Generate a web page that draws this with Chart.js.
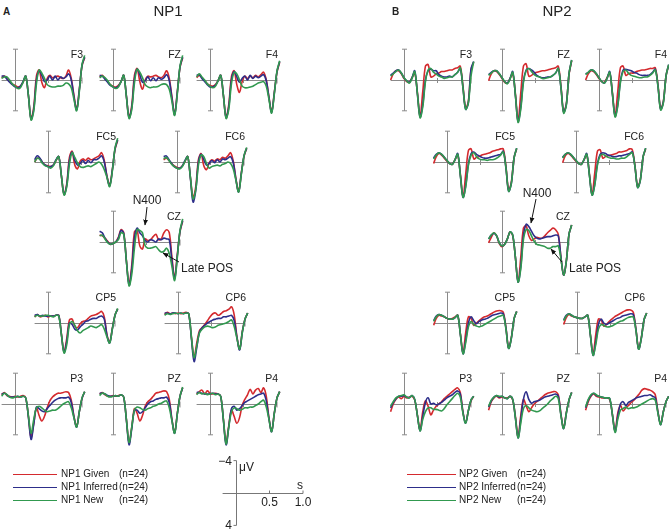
<!DOCTYPE html>
<html>
<head>
<meta charset="utf-8">
<script src="https://cdn.jsdelivr.net/npm/chart.js@4.4.1/dist/chart.umd.min.js"></script>
<style>
  html, body { margin: 0; padding: 0; background: #fff; }
  #fig { position: relative; width: 669px; height: 530px; overflow: hidden;
         font-family: "Liberation Sans", Arial, Helvetica, sans-serif; color: #222; }
  #fig canvas { position: absolute; }
  .t { position: absolute; white-space: nowrap; line-height: 1; }
  #notes { position: absolute; left: 0; top: 0; }
</style>
</head>
<body>
<div id="fig"></div>
<script>
// time base in seconds (sample every 40 ms)
const TIMES = [-0.2,-0.16,-0.12,-0.08,-0.04,0,0.04,0.08,0.12,0.16,0.2,0.24,0.28,0.32,0.36,0.4,
  0.44,0.48,0.52,0.56,0.6,0.64,0.68,0.72,0.76,0.8,0.84,0.88,0.92,0.96,1.0,1.04];

const ELECTRODES = ["F3","FZ","F4","FC5","FC6","CZ","CP5","CP6","P3","PZ","P4"];
const CONDITIONS = ["Given","Inferred","New"];
const PANELS = ["NP1","NP2"];

// ---- NP1 (microvolts, negative up) ----
const NP1_F3_GIVEN    = [-0.3,-0.5,-0.2,0.2,0.5,0.7,0.9,0.8,0.3,-0.5,2.0,5.0,3.5,-0.5,-1.3,0.3,1.0,-0.2,-0.6,-0.3,-0.4,-0.5,-0.3,-0.2,-0.5,-1.3,-0.2,2.0,3.8,1.2,-1.8,-2.9];
const NP1_F3_INFERRED = [-0.5,-0.5,-0.1,0.3,0.6,0.9,1.0,0.8,0.2,-0.5,2.0,5.1,3.8,0.0,-1.2,-0.6,0.2,0.0,-0.5,0.0,-0.5,0.0,-0.4,-0.2,-0.4,-0.8,0.0,2.2,3.9,1.3,-1.9,-3.0];
const NP1_F3_NEW      = [-0.2,-0.4,-0.4,0.0,0.5,0.8,1.1,1.0,0.3,-0.5,2.0,5.2,4.0,0.5,-1.3,-0.9,-0.2,0.6,0.8,0.9,0.9,0.8,0.8,0.7,0.4,0.5,1.0,2.5,4.0,1.5,-2.0,-3.2];

const NP1_FZ_GIVEN    = [-0.4,-0.6,-0.2,0.2,0.6,0.8,0.9,0.7,0.2,-0.6,2.1,4.8,3.3,-0.6,-1.5,0.2,1.2,0.0,-0.5,-0.4,-0.5,-0.6,-0.4,-0.3,-0.6,-1.2,-0.2,2.2,4.4,1.5,-1.6,-2.9];
const NP1_FZ_INFERRED = [-0.6,-0.5,-0.1,0.3,0.7,0.9,1.0,0.8,0.2,-0.6,2.1,4.9,3.6,-0.1,-1.4,-0.7,0.3,0.1,-0.4,0.1,-0.3,0.1,-0.3,-0.1,-0.3,-0.7,0.1,2.4,4.5,1.6,-1.7,-3.0];
const NP1_FZ_NEW      = [-0.3,-0.5,-0.3,0.1,0.6,0.9,1.1,0.9,0.2,-0.6,2.2,5.0,3.8,0.4,-1.4,-1.0,-0.3,0.6,0.9,1.0,0.9,0.9,0.8,0.6,0.5,0.6,1.2,2.8,4.6,1.8,-1.8,-3.2];

const NP1_F4_GIVEN    = [-0.3,-0.6,-0.3,0.1,0.5,0.7,0.8,0.6,0.1,-0.6,2.0,4.8,3.2,-0.4,-1.2,0.6,1.6,0.2,-0.5,-0.2,-0.5,-0.3,-0.6,-0.4,-0.7,-1.0,0.0,2.2,4.1,1.6,-1.0,-2.3];
const NP1_F4_INFERRED = [-0.6,-0.7,-0.2,0.2,0.6,0.9,0.9,0.7,0.1,-0.6,2.0,4.9,3.5,0.0,-1.1,-0.4,0.3,-0.2,-0.5,0.0,-0.6,-0.2,-0.5,-0.3,-0.5,-0.7,0.1,2.3,4.2,1.7,-1.1,-2.4];
const NP1_F4_NEW      = [-0.4,-0.8,-0.4,0.0,0.5,0.8,1.0,0.8,0.1,-0.6,2.0,5.0,3.8,0.5,-1.0,-0.8,0.0,0.8,1.0,1.0,0.9,0.8,0.6,0.4,0.3,0.2,0.8,2.5,4.3,1.8,-1.2,-2.5];

const NP1_FC5_GIVEN    = [0.0,-0.5,-0.4,0.1,0.4,0.5,0.6,0.4,-0.2,-0.7,1.8,4.2,2.8,-0.6,-1.4,0.4,0.9,-0.1,-0.4,-0.2,-0.5,-0.3,-0.4,-0.6,-0.8,-1.2,-0.2,1.8,3.0,1.0,-1.6,-2.8];
const NP1_FC5_INFERRED = [-0.3,-0.8,-0.5,0.1,0.4,0.6,0.6,0.4,-0.3,-0.7,1.8,4.2,3.0,-0.2,-1.3,-0.2,0.4,0.2,-0.2,0.2,-0.2,0.1,-0.3,-0.3,-0.5,-0.8,0.0,1.9,3.1,1.1,-1.7,-2.9];
const NP1_FC5_NEW      = [0.0,-0.5,-0.3,0.2,0.5,0.6,0.8,0.5,-0.2,-0.7,1.8,4.3,3.2,0.3,-1.2,-0.6,0.1,0.6,0.7,0.6,0.5,0.6,0.4,0.2,0.0,0.3,1.0,2.0,3.2,1.2,-1.8,-3.1];

const NP1_FC6_GIVEN    = [-0.3,-0.5,-0.2,0.2,0.5,0.7,0.8,0.5,-0.1,-0.7,2.0,4.6,3.2,-0.3,-1.1,0.5,1.0,0.1,-0.3,-0.1,-0.4,-0.3,-0.6,-0.5,-0.8,-1.2,-0.1,2.2,3.8,1.4,-0.7,-1.8];
const NP1_FC6_INFERRED = [-0.7,-0.8,-0.3,0.2,0.6,0.8,0.8,0.5,-0.2,-0.7,2.1,5.2,3.7,0.0,-1.0,-0.3,0.4,0.2,-0.2,0.1,-0.3,0.0,-0.4,-0.3,-0.5,-0.7,0.1,2.3,3.9,1.5,-0.8,-1.8];
const NP1_FC6_NEW      = [-0.4,-0.6,-0.2,0.3,0.6,0.8,0.9,0.6,-0.1,-0.7,2.0,4.8,3.6,0.4,-0.9,-0.7,0.2,0.8,0.6,0.5,0.4,0.5,0.3,0.2,0.0,0.2,0.9,2.4,3.9,1.6,-0.8,-1.9];

const NP1_CZ_GIVEN    = [-0.9,-0.8,-0.5,-0.1,0.3,0.2,0.0,-0.6,-1.6,-1.2,2.4,5.4,3.0,-1.3,-1.5,0.5,0.9,-0.4,-0.2,-0.3,-0.7,-1.0,-0.3,-0.4,-1.2,-1.6,-1.2,2.0,4.6,1.6,-1.3,-2.7];
const NP1_CZ_INFERRED = [-1.4,-1.2,-0.5,0.0,0.3,0.2,0.0,-0.5,-1.5,-1.1,2.5,5.6,3.5,-0.5,-1.8,-1.2,-0.8,-0.2,0.0,-0.3,-0.2,0.0,-0.4,-0.3,-0.5,-0.4,-0.3,2.5,4.8,1.8,-1.4,-2.8];
const NP1_CZ_NEW      = [-0.8,-0.9,-0.4,0.1,0.3,0.2,0.0,-0.3,-1.2,-1.0,2.5,5.7,4.2,0.8,-1.6,-1.5,-1.2,0.5,0.8,0.8,0.7,0.6,1.0,1.3,1.2,0.8,1.5,3.2,5.0,2.0,-1.5,-3.0];

const NP1_CP5_GIVEN    = [-0.8,-1.1,-0.8,-0.9,-1.0,-0.8,-0.9,-0.9,-1.0,-1.0,1.4,3.7,2.0,-0.4,-0.5,0.4,0.6,0.1,-0.2,-0.3,-0.6,-0.9,-1.0,-1.1,-1.3,-1.5,-0.8,1.5,2.5,0.7,-1.0,-1.8];
const NP1_CP5_INFERRED = [-1.0,-1.1,-0.9,-1.0,-0.9,-0.9,-0.9,-0.9,-1.0,-1.0,1.5,3.8,2.4,0.0,0.2,0.8,0.9,0.5,0.2,-0.2,-0.3,-0.5,-0.6,-0.6,-0.8,-0.9,-0.5,1.6,2.6,0.8,-1.0,-1.8];
const NP1_CP5_NEW      = [-0.8,-1.0,-0.9,-0.9,-1.0,-1.0,-0.9,-0.8,-1.0,-0.9,1.5,3.9,2.8,0.2,-0.2,0.3,1.0,1.3,1.0,0.8,0.6,0.4,0.5,0.6,0.4,0.2,0.8,1.8,2.6,0.8,-1.0,-1.9];

const NP1_CP6_GIVEN    = [-1.1,-1.4,-1.2,-1.3,-1.2,-1.3,-1.2,-1.3,-1.4,-1.2,1.8,4.4,2.6,1.0,0.6,0.2,-0.3,-0.8,-1.2,-1.3,-1.0,-1.2,-1.5,-1.6,-1.8,-2.1,-1.0,1.8,3.4,1.1,-0.5,-1.3];
const NP1_CP6_INFERRED = [-1.3,-1.3,-1.2,-1.3,-1.3,-1.2,-1.3,-1.2,-1.3,-1.2,2.0,5.0,3.2,1.2,0.6,0.3,0.0,-0.2,-0.4,-0.5,-0.6,-0.6,-0.8,-0.8,-0.9,-1.0,-0.3,1.9,3.5,1.2,-0.5,-1.3];
const NP1_CP6_NEW      = [-1.0,-1.2,-1.1,-1.2,-1.3,-1.2,-1.3,-1.2,-1.3,-1.2,1.8,4.5,3.0,1.3,0.8,0.5,0.4,0.5,0.6,0.5,0.3,0.2,0.1,0.0,-0.2,-0.4,0.5,2.0,3.4,1.2,-0.5,-1.3];

const NP1_P3_GIVEN    = [-1.2,-1.5,-1.1,-1.0,-0.9,-1.0,-0.9,-1.0,-1.1,-0.8,1.6,4.3,2.5,0.5,1.5,2.2,1.6,0.5,-0.4,-0.9,-1.2,-1.4,-1.4,-1.5,-1.6,-1.5,-0.5,1.6,2.9,1.0,-0.7,-1.6];
const NP1_P3_INFERRED = [-1.3,-1.4,-1.2,-0.9,-0.9,-0.9,-1.0,-0.9,-1.0,-0.8,1.7,4.6,2.6,0.4,0.6,0.9,1.0,0.6,0.2,-0.2,-0.5,-0.7,-0.8,-0.8,-0.8,-0.9,-0.2,1.7,3.0,1.0,-0.7,-1.6];
const NP1_P3_NEW      = [-1.0,-1.4,-1.2,-0.9,-0.8,-0.9,-1.0,-0.9,-1.0,-0.8,1.5,3.8,2.0,0.5,0.3,0.5,0.8,1.0,0.9,0.8,0.8,0.6,0.3,0.0,-0.2,-0.3,0.5,1.8,3.0,1.0,-0.8,-1.6];

const NP1_PZ_GIVEN    = [-1.3,-1.5,-1.2,-1.0,-1.0,-1.1,-1.0,-1.1,-1.2,-0.9,2.0,5.0,3.0,0.6,1.2,2.2,1.5,0.3,-0.3,-0.6,-1.0,-1.4,-1.5,-1.6,-1.7,-1.6,-0.6,2.0,3.7,1.2,-1.0,-2.1];
const NP1_PZ_INFERRED = [-1.4,-1.4,-1.3,-1.1,-1.0,-1.0,-1.1,-1.0,-1.2,-0.9,2.1,5.3,3.2,0.8,0.8,1.2,1.0,0.5,0.0,-0.3,-0.4,-0.6,-0.7,-0.8,-0.8,-0.9,-0.2,2.1,3.8,1.3,-1.0,-2.1];
const NP1_PZ_NEW      = [-1.1,-1.4,-1.3,-1.0,-0.9,-1.0,-1.1,-1.0,-1.2,-0.9,2.0,5.0,3.0,0.8,0.4,0.5,0.7,0.8,0.6,0.5,0.3,0.2,0.0,-0.1,-0.3,-0.4,0.5,2.2,3.8,1.3,-1.0,-2.2];

const NP1_P4_GIVEN    = [-1.3,-1.6,-1.8,-1.3,-1.7,-1.4,-1.3,-1.4,-1.3,-1.0,2.0,5.0,2.8,0.8,1.6,2.5,1.8,0.2,-0.6,-1.2,-1.9,-1.3,-1.8,-2.0,-1.5,-2.1,-1.0,1.8,3.5,1.2,-0.8,-1.6];
const NP1_P4_INFERRED = [-1.5,-1.5,-1.4,-1.3,-1.3,-1.3,-1.4,-1.3,-1.3,-1.0,2.1,5.3,3.0,0.6,0.3,0.8,0.6,0.2,-0.2,-0.4,-0.6,-0.8,-1.0,-1.2,-1.3,-1.4,-0.4,1.9,3.6,1.2,-0.8,-1.6];
const NP1_P4_NEW      = [-1.2,-1.5,-1.3,-1.4,-1.2,-1.3,-1.4,-1.2,-1.3,-1.0,2.0,5.2,3.0,1.0,0.5,0.6,0.8,0.7,0.5,0.5,0.4,0.4,0.2,0.0,-0.3,-0.5,0.4,2.0,3.6,1.2,-0.8,-1.6];

// ---- NP2 ----
const NP2_F3_GIVEN    = [0.0,-0.8,-1.2,-1.2,-0.8,-0.2,0.2,0.3,-0.3,-0.9,1.6,4.6,1.5,-1.8,-2.0,-0.4,-0.5,-0.8,-0.9,-1.1,-1.1,-1.2,-1.3,-1.3,-1.5,-1.6,-1.8,0.8,3.6,2.8,-1.3,-2.3];
const NP2_F3_INFERRED = [-0.6,-0.9,-1.2,-1.3,-0.9,-0.3,0.1,0.3,-0.3,-1.2,1.8,4.8,3.2,0.0,-1.2,-1.4,-1.2,-1.2,-0.7,-0.5,-0.4,-0.4,-0.5,-0.4,-0.7,-1.0,-1.5,1.0,3.8,3.0,-1.4,-2.4];
const NP2_F3_NEW      = [-0.5,-0.8,-1.1,-1.3,-0.9,-0.3,0.1,0.4,-0.2,-1.1,1.8,4.9,3.5,0.2,-1.3,-1.5,-1.0,-0.8,-0.5,-0.4,-0.2,-0.3,-0.4,-0.4,-0.7,-1.0,-1.6,1.0,3.8,3.0,-0.5,-2.4];

const NP2_FZ_GIVEN    = [0.1,-0.8,-1.2,-1.1,-0.7,-0.2,0.3,0.4,-0.2,-0.8,1.8,5.2,1.7,-1.8,-2.1,-0.5,-0.6,-0.9,-1.0,-1.1,-1.2,-1.2,-1.3,-1.4,-1.5,-1.6,-1.8,0.8,4.1,3.1,-0.7,-2.5];
const NP2_FZ_INFERRED = [-0.7,-1.0,-1.2,-1.2,-0.8,-0.3,0.2,0.4,-0.2,-1.1,2.0,5.4,3.5,0.1,-1.3,-1.5,-1.3,-1.0,-0.6,-0.4,-0.3,-0.3,-0.4,-0.4,-0.6,-0.9,-1.5,1.0,4.2,3.2,-0.8,-2.6];
const NP2_FZ_NEW      = [-0.6,-0.9,-1.2,-1.2,-0.8,-0.3,0.2,0.5,-0.1,-1.0,2.0,5.5,3.8,0.3,-1.2,-1.5,-1.1,-0.7,-0.5,-0.4,-0.2,-0.2,-0.3,-0.4,-0.6,-0.9,-1.5,1.0,4.3,3.3,-0.8,-2.6];

const NP2_F4_GIVEN    = [0.0,-0.8,-1.2,-1.1,-0.7,-0.2,0.2,0.3,-0.3,-0.9,1.6,4.5,1.5,-1.6,-1.8,-0.6,-0.8,-0.9,-0.9,-1.1,-1.2,-1.3,-1.3,-1.4,-1.5,-1.5,-1.6,0.6,3.7,2.8,-0.5,-1.9];
const NP2_F4_INFERRED = [-0.8,-1.0,-1.3,-1.2,-0.8,-0.3,0.2,0.4,-0.2,-1.1,1.8,4.7,3.2,0.1,-1.3,-1.4,-1.3,-1.2,-1.0,-0.9,-0.7,-0.6,-0.6,-0.6,-0.7,-1.0,-1.4,0.8,3.8,2.9,-0.5,-2.0];
const NP2_F4_NEW      = [-0.7,-1.0,-1.3,-1.2,-0.8,-0.3,0.2,0.4,-0.2,-1.0,1.8,4.8,3.4,0.3,-1.1,-1.3,-0.9,-0.6,-0.5,-0.4,-0.3,-0.3,-0.4,-0.4,-0.6,-0.9,-1.3,0.8,3.9,3.0,-0.5,-2.0];

const NP2_FC5_GIVEN    = [0.2,-0.7,-1.1,-0.9,-0.5,-0.1,0.2,0.3,-0.3,-0.9,1.6,4.4,1.5,-1.5,-1.7,-0.4,-0.6,-0.7,-0.9,-1.0,-1.1,-1.2,-1.4,-1.5,-1.6,-1.7,-1.7,0.6,3.6,2.6,-0.5,-1.7];
const NP2_FC5_INFERRED = [-0.5,-1.0,-1.2,-1.0,-0.6,-0.2,0.2,0.3,-0.3,-1.1,1.8,4.6,3.0,0.2,-1.1,-1.3,-1.0,-0.8,-0.6,-0.5,-0.5,-0.6,-0.7,-0.8,-0.9,-1.0,-1.4,0.8,3.8,2.8,-0.5,-1.8];
const NP2_FC5_NEW      = [-0.4,-0.9,-1.2,-1.0,-0.6,-0.2,0.2,0.3,-0.3,-1.0,1.8,4.6,3.2,0.4,-0.9,-1.2,-0.7,-0.4,-0.3,-0.3,-0.2,-0.3,-0.3,-0.4,-0.6,-0.9,-1.3,0.8,3.8,2.8,-0.5,-1.8];

const NP2_FC6_GIVEN    = [0.1,-0.8,-1.1,-0.9,-0.5,-0.1,0.2,0.3,-0.3,-0.9,1.5,4.1,1.4,-1.4,-1.6,-0.5,-0.7,-0.8,-0.9,-1.0,-1.1,-1.3,-1.3,-1.4,-1.5,-1.7,-1.6,0.5,3.2,2.3,-0.6,-1.7];
const NP2_FC6_INFERRED = [-0.6,-1.0,-1.2,-1.0,-0.6,-0.2,0.2,0.3,-0.3,-1.1,1.7,4.3,2.9,0.2,-1.0,-1.2,-1.1,-0.9,-0.8,-0.7,-0.7,-0.8,-0.8,-0.9,-1.0,-1.1,-1.3,0.6,3.3,2.4,-0.6,-1.8];
const NP2_FC6_NEW      = [-0.5,-1.0,-1.2,-1.0,-0.6,-0.2,0.2,0.3,-0.3,-1.0,1.7,4.3,3.0,0.4,-0.8,-1.0,-0.8,-0.6,-0.5,-0.5,-0.4,-0.4,-0.5,-0.5,-0.7,-1.0,-1.2,0.6,3.3,2.4,-0.6,-1.8];

const NP2_CZ_GIVEN    = [0.1,-0.6,-1.2,-0.8,0.2,0.6,0.3,-0.4,-1.3,-0.8,2.0,5.2,2.0,-1.8,-2.1,-0.8,-0.2,-0.4,-0.6,-0.5,-0.5,-0.8,-1.2,-1.5,-1.8,-1.6,-1.0,2.0,4.3,2.5,-1.0,-2.2];
const NP2_CZ_INFERRED = [-0.4,-0.9,-1.1,-0.8,0.1,0.5,0.3,-0.4,-1.3,-0.9,2.0,5.2,3.2,-0.8,-2.3,-2.0,-1.4,-0.8,-0.5,-0.4,-0.5,-0.6,-0.7,-0.7,-0.8,-0.9,-0.8,2.0,4.3,2.5,-1.0,-2.2];
const NP2_CZ_NEW      = [-0.4,-0.9,-1.2,-0.8,0.1,0.5,0.3,-0.4,-1.3,-0.9,2.0,5.2,3.5,-0.3,-1.6,-1.5,-0.8,-0.1,0.3,0.4,0.5,0.6,0.8,0.8,0.6,0.6,0.5,2.2,4.3,2.5,-1.0,-2.2];

const NP2_CP5_GIVEN    = [0.3,-0.6,-1.0,-0.9,-0.8,-0.6,-0.5,-0.6,-0.8,-1.0,1.4,3.8,1.2,-0.8,-0.6,0.3,0.0,-0.3,-0.6,-0.8,-0.9,-1.1,-1.3,-1.5,-1.6,-1.6,-1.4,0.6,3.2,1.9,-0.5,-1.5];
const NP2_CP5_INFERRED = [-0.3,-0.9,-1.1,-1.0,-0.8,-0.6,-0.5,-0.5,-0.7,-1.0,1.5,4.0,2.2,0.0,-0.8,-0.3,0.1,-0.2,-0.4,-0.5,-0.6,-0.8,-1.0,-1.1,-1.2,-1.3,-1.2,0.7,3.3,2.0,-0.5,-1.5];
const NP2_CP5_NEW      = [-0.2,-0.8,-1.1,-1.0,-0.8,-0.6,-0.5,-0.5,-0.7,-1.0,1.5,4.0,2.5,0.5,-0.2,0.2,0.4,0.5,0.4,0.2,0.0,-0.2,-0.4,-0.6,-0.8,-0.9,-1.0,0.8,3.3,2.0,-0.5,-1.5];

const NP2_CP6_GIVEN    = [0.2,-0.7,-1.1,-0.9,-0.8,-0.7,-0.6,-0.6,-0.8,-1.0,1.5,4.0,1.5,-0.5,-0.4,0.4,0.2,-0.2,-0.5,-0.8,-1.0,-1.2,-1.4,-1.6,-1.7,-1.7,-1.4,0.8,3.3,1.9,-0.4,-1.3];
const NP2_CP6_INFERRED = [-0.4,-1.0,-1.2,-1.0,-0.8,-0.7,-0.6,-0.6,-0.8,-1.0,1.6,4.2,2.5,0.2,-0.5,0.0,0.2,0.0,-0.2,-0.4,-0.6,-0.7,-0.9,-1.0,-1.1,-1.2,-1.1,0.9,3.4,2.0,-0.4,-1.3];
const NP2_CP6_NEW      = [-0.3,-0.9,-1.2,-1.0,-0.8,-0.7,-0.6,-0.6,-0.8,-1.0,1.6,4.2,2.8,0.8,0.2,0.3,0.5,0.5,0.4,0.2,0.0,-0.2,-0.3,-0.5,-0.7,-0.8,-0.8,1.0,3.4,2.0,-0.4,-1.3];

const NP2_P3_GIVEN    = [1.0,0.0,-0.6,-0.9,-0.7,-1.0,-0.8,-0.9,-1.0,-0.5,1.4,3.3,1.0,-0.4,0.3,1.4,0.8,0.3,0.0,-0.3,-0.7,-1.0,-1.3,-1.6,-1.9,-2.1,-1.5,1.0,2.4,0.9,-0.4,-1.0];
const NP2_P3_INFERRED = [0.5,-0.2,-0.7,-1.0,-1.0,-1.1,-0.9,-0.8,-1.1,-0.6,1.5,3.5,1.6,-0.2,-0.8,0.0,-0.1,0.1,0.0,-0.2,-0.5,-0.8,-1.0,-1.2,-1.5,-1.7,-1.3,1.1,2.5,0.9,-0.5,-1.0];
const NP2_P3_NEW      = [0.3,-0.3,-0.8,-1.0,-1.1,-1.2,-0.9,-0.8,-1.1,-0.6,1.5,3.5,2.0,1.0,0.5,0.5,0.7,0.7,0.8,0.9,0.6,0.1,-0.3,-0.7,-1.1,-1.4,-0.9,1.2,2.5,0.9,-0.5,-1.0];

const NP2_PZ_GIVEN    = [0.8,-0.3,-0.8,-1.0,-0.8,-0.9,-0.8,-0.8,-1.0,-0.5,1.6,4.2,1.5,-0.6,0.2,1.0,0.5,0.0,-0.3,-0.6,-0.9,-1.2,-1.4,-1.5,-1.6,-1.6,-1.2,1.3,3.1,1.1,-0.5,-1.5];
const NP2_PZ_INFERRED = [0.4,-0.4,-0.9,-1.1,-0.9,-1.0,-0.8,-0.7,-1.0,-0.6,1.8,4.4,2.0,-0.6,-1.6,-0.6,-0.1,-0.3,-0.4,-0.5,-0.7,-0.9,-1.0,-1.1,-1.2,-1.3,-1.0,1.4,3.2,1.2,-0.5,-1.5];
const NP2_PZ_NEW      = [0.3,-0.5,-0.9,-1.1,-1.0,-1.0,-0.8,-0.7,-1.0,-0.6,1.8,4.4,2.5,0.6,0.2,0.5,0.8,0.9,1.0,0.9,0.6,0.3,0.0,-0.4,-0.7,-1.0,-0.7,1.5,3.2,1.2,-0.5,-1.5];

const NP2_P4_GIVEN    = [0.8,-0.3,-1.0,-1.3,-1.0,-0.9,-0.8,-0.8,-0.8,-0.6,1.3,3.5,1.2,0.2,0.9,0.5,0.2,-0.2,-0.5,-0.9,-1.3,-1.8,-2.0,-1.9,-1.8,-1.6,-1.2,1.0,2.6,1.0,-0.3,-1.0];
const NP2_P4_INFERRED = [0.5,-0.5,-1.1,-1.4,-1.1,-1.0,-0.9,-0.8,-0.8,-0.7,1.4,3.6,1.6,0.0,-0.3,0.2,-0.2,-0.4,-0.6,-0.8,-0.9,-1.0,-1.1,-1.1,-1.2,-1.0,-0.8,1.1,2.7,1.0,-0.3,-1.0];
const NP2_P4_NEW      = [0.4,-0.6,-1.2,-1.4,-1.2,-1.0,-0.9,-0.8,-0.8,-0.7,1.4,3.7,2.0,0.8,0.6,0.4,0.6,0.5,0.5,0.4,0.2,0.0,-0.2,-0.4,-0.6,-0.7,-0.5,1.2,2.7,1.0,-0.3,-1.0];

// scale bar ticks
const SCALE_TIME_TICKS = [0.5, 1.0];
const SCALE_UV_TICKS = [-4, 4];

// ---------------------------------------------------------------
const SERIES = {
  NP1: {
    F3: [NP1_F3_GIVEN, NP1_F3_INFERRED, NP1_F3_NEW], FZ: [NP1_FZ_GIVEN, NP1_FZ_INFERRED, NP1_FZ_NEW],
    F4: [NP1_F4_GIVEN, NP1_F4_INFERRED, NP1_F4_NEW], FC5: [NP1_FC5_GIVEN, NP1_FC5_INFERRED, NP1_FC5_NEW],
    FC6: [NP1_FC6_GIVEN, NP1_FC6_INFERRED, NP1_FC6_NEW], CZ: [NP1_CZ_GIVEN, NP1_CZ_INFERRED, NP1_CZ_NEW],
    CP5: [NP1_CP5_GIVEN, NP1_CP5_INFERRED, NP1_CP5_NEW], CP6: [NP1_CP6_GIVEN, NP1_CP6_INFERRED, NP1_CP6_NEW],
    P3: [NP1_P3_GIVEN, NP1_P3_INFERRED, NP1_P3_NEW], PZ: [NP1_PZ_GIVEN, NP1_PZ_INFERRED, NP1_PZ_NEW],
    P4: [NP1_P4_GIVEN, NP1_P4_INFERRED, NP1_P4_NEW]
  },
  NP2: {
    F3: [NP2_F3_GIVEN, NP2_F3_INFERRED, NP2_F3_NEW], FZ: [NP2_FZ_GIVEN, NP2_FZ_INFERRED, NP2_FZ_NEW],
    F4: [NP2_F4_GIVEN, NP2_F4_INFERRED, NP2_F4_NEW], FC5: [NP2_FC5_GIVEN, NP2_FC5_INFERRED, NP2_FC5_NEW],
    FC6: [NP2_FC6_GIVEN, NP2_FC6_INFERRED, NP2_FC6_NEW], CZ: [NP2_CZ_GIVEN, NP2_CZ_INFERRED, NP2_CZ_NEW],
    CP5: [NP2_CP5_GIVEN, NP2_CP5_INFERRED, NP2_CP5_NEW], CP6: [NP2_CP6_GIVEN, NP2_CP6_INFERRED, NP2_CP6_NEW],
    P3: [NP2_P3_GIVEN, NP2_P3_INFERRED, NP2_P3_NEW], PZ: [NP2_PZ_GIVEN, NP2_PZ_INFERRED, NP2_PZ_NEW],
    P4: [NP2_P4_GIVEN, NP2_P4_INFERRED, NP2_P4_NEW]
  }
};

const COLORS = { Given: "#d42a2e", Inferred: "#2d2e8a", New: "#31994f" };
const AXIS = "#8a8a8a";

// layout: where the 0 s / 0 uV origin of each plot sits in panel A
const ORIGINS = {
  F3: [15, 80], FZ: [113, 80], F4: [210, 80],
  FC5: [48, 162], FC6: [177, 162],
  CZ: [113, 242],
  CP5: [48, 323], CP6: [178, 323],
  P3: [15, 404], PZ: [113, 404], P4: [210, 404]
};
// panel B sits further right; its two-plot rows are nudged a little more
const PANEL_SHIFT = { NP1: 0, NP2: 389 };
const ROW_NUDGE_B = { FC5: 10, FC6: 10, CP5: 10, CP6: 10 };

const PX_PER_S = 67, PX_PER_UV = 7.7;
const LEFT_PAD = 15, TOP_PAD = 39, CW = 90, CH = 95;

const fig = document.getElementById("fig");

function addText(str, x, y, opts = {}) {
  const el = document.createElement("div");
  el.className = "t";
  el.textContent = str;
  el.style.left = x + "px";
  el.style.top = y + "px";
  el.style.fontSize = (opts.size || 10) + "px";
  if (opts.bold) el.style.fontWeight = "bold";
  if (opts.italic) el.style.fontStyle = "italic";
  const ax = opts.align === "right" ? "-100%" : opts.align === "center" ? "-50%" : "0";
  el.style.transform = `translate(${ax}, -50%)`;
  fig.appendChild(el);
  return el;
}

const erpAxes = {
  id: "erpAxes",
  beforeDatasetsDraw(chart) {
    const { ctx } = chart;
    const x = chart.scales.x, y = chart.scales.y;
    const x0 = x.getPixelForValue(-0.2), x1 = x.getPixelForValue(1.0);
    const xm = x.getPixelForValue(0.5), xz = x.getPixelForValue(0) + 0.5;
    const yz = y.getPixelForValue(0) + 0.5;
    const yt = y.getPixelForValue(-4), yb = y.getPixelForValue(4);
    ctx.save();
    ctx.strokeStyle = AXIS;
    ctx.lineWidth = 1;
    ctx.beginPath();
    ctx.moveTo(x0, yz); ctx.lineTo(x1, yz);
    ctx.moveTo(xm, yz - 2.5); ctx.lineTo(xm, yz + 2.5);
    ctx.moveTo(x1, yz - 3); ctx.lineTo(x1, yz + 3);
    ctx.moveTo(xz, yt); ctx.lineTo(xz, yb);
    ctx.moveTo(xz - 2.5, yt); ctx.lineTo(xz + 2.5, yt);
    ctx.moveTo(xz - 2.5, yb); ctx.lineTo(xz + 2.5, yb);
    ctx.stroke();
    ctx.restore();
  }
};

function makeCanvas(left, top, w, h) {
  const c = document.createElement("canvas");
  c.width = w; c.height = h;
  c.style.left = left + "px"; c.style.top = top + "px";
  c.style.width = w + "px"; c.style.height = h + "px";
  fig.appendChild(c);
  return c;
}

function renderPlot(panel, name) {
  const [ox, oy] = ORIGINS[name];
  const vx = ox + PANEL_SHIFT[panel] + (panel === "NP2" ? (ROW_NUDGE_B[name] || 0) : 0);
  const zy = oy;
  const canvas = makeCanvas(vx - LEFT_PAD, zy - TOP_PAD, CW, CH);
  const lines = SERIES[panel][name];
  lines.forEach((vals, i) => {
    if (vals.length !== TIMES.length) throw new Error(`${panel} ${name} ${CONDITIONS[i]}: ${vals.length} values`);
  });
  // draw order: New on top, then Inferred, then Given
  const order = [2, 1, 0];
  new Chart(canvas, {
    type: "line",
    data: {
      datasets: order.map((i) => ({
        label: `${panel} ${CONDITIONS[i]}`,
        data: TIMES.map((t, k) => ({ x: t, y: lines[i][k] })),
        borderColor: COLORS[CONDITIONS[i]],
        borderWidth: 1.6,
        pointRadius: 0,
        tension: 0.35,
        fill: false,
        clip: false
      }))
    },
    options: {
      responsive: false,
      animation: false,
      events: [],
      layout: { padding: 0 },
      plugins: { legend: { display: false }, tooltip: { enabled: false } },
      scales: {
        x: { type: "linear", display: false, min: -LEFT_PAD / PX_PER_S, max: (CW - LEFT_PAD) / PX_PER_S },
        y: { type: "linear", display: false, reverse: true, min: -TOP_PAD / PX_PER_UV, max: (CH - TOP_PAD) / PX_PER_UV }
      }
    },
    plugins: [erpAxes]
  });
  addText(name, vx + 68, zy - 26, { size: 10.5, align: "right" });
}

PANELS.forEach((p) => ELECTRODES.forEach((e) => renderPlot(p, e)));

// scale bar
(function scaleBar() {
  const vx = 236, zy = 493, pxs = 67, pxu = 8.1;
  const canvas = makeCanvas(vx - 20, zy - 40, 95, 80);
  const bar = {
    id: "scaleBar",
    beforeDatasetsDraw(chart) {
      const { ctx } = chart;
      const x = chart.scales.x, y = chart.scales.y;
      const xz = x.getPixelForValue(0) + 0.5, yz = y.getPixelForValue(0) + 0.5;
      ctx.save();
      ctx.strokeStyle = "#777";
      ctx.lineWidth = 1;
      ctx.beginPath();
      ctx.moveTo(x.getPixelForValue(-0.2), yz); ctx.lineTo(x.getPixelForValue(1.0), yz);
      SCALE_TIME_TICKS.forEach((t) => {
        const px = x.getPixelForValue(t);
        ctx.moveTo(px, yz); ctx.lineTo(px, yz - 3);
      });
      ctx.moveTo(xz, y.getPixelForValue(-4)); ctx.lineTo(xz, y.getPixelForValue(4));
      SCALE_UV_TICKS.forEach((v) => {
        const py = y.getPixelForValue(v);
        ctx.moveTo(xz, py); ctx.lineTo(xz - 3, py);
      });
      ctx.stroke();
      ctx.restore();
    }
  };
  new Chart(canvas, {
    type: "line",
    data: { datasets: [] },
    options: {
      responsive: false, animation: false, events: [],
      layout: { padding: 0 },
      plugins: { legend: { display: false }, tooltip: { enabled: false } },
      scales: {
        x: { type: "linear", display: false, min: -20 / pxs, max: 75 / pxs },
        y: { type: "linear", display: false, reverse: true, min: -40 / pxu, max: 40 / pxu }
      }
    },
    plugins: [bar]
  });
  addText("\u22124", vx - 4, zy - 4 * pxu, { size: 12, align: "right" });
  addText("4", vx - 4, zy + 4 * pxu, { size: 12, align: "right" });
  addText("\u03bcV", vx + 3, zy - 26, { size: 12 });
  addText("s", vx + 64, zy - 8, { size: 12, align: "center" });
  SCALE_TIME_TICKS.forEach((t) => addText(t.toFixed(1), vx + t * pxs, zy + 9, { size: 12, align: "center" }));
})();

// titles
addText("A", 3, 12, { size: 10, bold: true });
addText("B", 392, 12, { size: 10, bold: true });
addText("NP1", 168, 10, { size: 15, align: "center" });
addText("NP2", 557, 10, { size: 15, align: "center" });

// legends
function legend(panel, lineX0, lineX1, textX, nX) {
  const ys = [474, 487, 500];
  CONDITIONS.forEach((c, i) => {
    const ln = document.createElement("div");
    ln.style.cssText = `position:absolute;left:${lineX0}px;top:${ys[i]}px;width:${lineX1 - lineX0}px;height:0;border-top:1.2px solid ${COLORS[c]};`;
    fig.appendChild(ln);
    addText(`${panel} ${c}`, textX, ys[i], { size: 10 });
    addText("(n=24)", nX, ys[i], { size: 10 });
  });
}
legend("NP1", 13, 57, 61, 119);
legend("NP2", 407, 456, 459, 517);

// annotations
addText("N400", 147, 200, { size: 12, align: "center" });
addText("Late POS", 181, 268, { size: 12 });
addText("N400", 537, 193, { size: 12, align: "center" });
addText("Late POS", 569, 268, { size: 12 });

const svgNS = "http://www.w3.org/2000/svg";
const svg = document.createElementNS(svgNS, "svg");
svg.setAttribute("id", "notes");
svg.setAttribute("width", 669);
svg.setAttribute("height", 530);
svg.innerHTML = `<defs><marker id="ah" viewBox="0 0 10 10" refX="9" refY="5" markerWidth="6" markerHeight="6" orient="auto">
  <path d="M0,1 L10,5 L0,9 z" fill="#111"/></marker></defs>`;
[[147, 207, 145, 225], [179, 262, 163, 253], [536, 199, 531, 223], [562, 262, 551, 249]].forEach(([x1, y1, x2, y2]) => {
  const l = document.createElementNS(svgNS, "line");
  l.setAttribute("x1", x1); l.setAttribute("y1", y1);
  l.setAttribute("x2", x2); l.setAttribute("y2", y2);
  l.setAttribute("stroke", "#111"); l.setAttribute("stroke-width", "1");
  l.setAttribute("marker-end", "url(#ah)");
  svg.appendChild(l);
});
fig.appendChild(svg);
</script>
</body>
</html>
